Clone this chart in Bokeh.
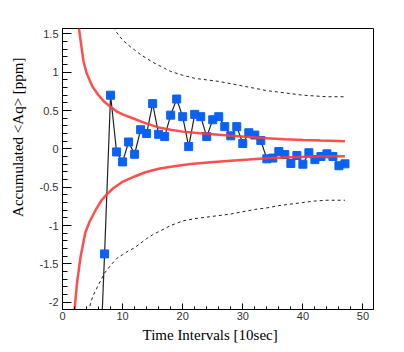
import numpy as np
from math import pi
from bokeh.plotting import figure
from bokeh.models import Range1d, FixedTicker, Title, CustomJSTickFormatter
from bokeh.embed import file_html
from bokeh.resources import INLINE

# ---- data ----
interval = [6, 7, 8, 9, 10, 11, 12, 13, 14, 15, 16, 17, 18, 19, 20, 21, 22, 23, 24, 25, 26,
            27, 28, 29, 30, 31, 32, 33, 34, 35, 36, 37, 38, 39, 40, 41, 42, 43, 44, 45, 46, 47]
acc_aq = [-3.3, -1.37, 0.70, -0.04, -0.17, 0.09, -0.07, 0.25, 0.20, 0.59, 0.19, 0.16, 0.44, 0.65,
          0.42, 0.03, 0.45, 0.42, 0.16, 0.38, 0.42, 0.29, 0.17, 0.29, 0.07, 0.21, 0.18, 0.11,
          -0.13, -0.12, -0.035, -0.074, -0.19, -0.087, -0.20, -0.05, -0.14, -0.10, -0.065, -0.10,
          -0.22, -0.195]

red_up_x = [2.6, 3, 3.5, 4, 5, 6, 7, 8, 9, 10, 11, 12, 14, 16, 18, 20, 22, 25, 28, 31, 34, 37, 40, 43, 47]
red_up_y = [1.65, 1.42, 1.14, 0.99, 0.81, 0.70, 0.61, 0.55, 0.49, 0.45, 0.42, 0.39, 0.33, 0.28,
            0.25, 0.225, 0.21, 0.19, 0.17, 0.155, 0.14, 0.125, 0.115, 0.108, 0.10]
red_lo_x = [1.9, 2, 2.4, 3, 3.8, 4.5, 5.5, 6.5, 7.4, 8.5, 9.9, 12, 13.8, 16, 18.3, 21, 24.6, 28,
            31, 34.6, 38, 42, 47]
red_lo_y = [-2.2, -2.1, -1.76, -1.41, -1.09, -0.95, -0.80, -0.67, -0.59, -0.51, -0.435, -0.36,
            -0.305, -0.26, -0.23, -0.20, -0.175, -0.155, -0.14, -0.12, -0.11, -0.10, -0.096]

dash_up_x = [8, 9, 10, 11, 12, 13, 14, 15, 16, 17, 18, 20, 22, 24, 26, 28, 30, 32, 34, 36, 38,
             40, 42, 44, 47]
dash_up_y = [1.66, 1.52, 1.42, 1.35, 1.29, 1.23, 1.18, 1.13, 1.09, 1.05, 1.01, 0.96, 0.92, 0.90,
             0.88, 0.85, 0.82, 0.79, 0.76, 0.74, 0.72, 0.70, 0.69, 0.68, 0.68]
dash_lo_x = [4, 5, 6, 7, 8, 9, 10, 11, 12, 13, 14, 15, 16, 17, 18, 20, 22, 24, 26, 28, 30, 32,
             34, 36, 38, 40, 42, 44, 47]
dash_lo_y = [-2.2, -1.93, -1.77, -1.62, -1.52, -1.43, -1.38, -1.33, -1.29, -1.23, -1.17, -1.12,
             -1.08, -1.04, -1.00, -0.94, -0.91, -0.89, -0.87, -0.85, -0.82, -0.79, -0.77, -0.74,
             -0.72, -0.70, -0.68, -0.67, -0.67]

x_major = [0, 10, 20, 30, 40, 50]
y_major = [-2.0, -1.5, -1.0, -0.5, 0.0, 0.5, 1.0, 1.5]

x_title = "Time Intervals [10sec]"
y_title = "Accumulated <Aq> [ppm]"

# ---- figure ----
p = figure(frame_width=311, frame_height=281,
           x_range=Range1d(0, 51.75), y_range=Range1d(-2.095, 1.57),
           output_backend="svg", toolbar_location=None,
           min_border_left=62, min_border_right=25, min_border_top=28, min_border_bottom=41)
p.grid.visible = False
p.outline_line_color = "black"
p.outline_line_width = 1
p.background_fill_color = "white"
p.border_fill_color = "white"

p.line(interval, acc_aq, line_color="#222222", line_width=1.2)
p.scatter(interval, acc_aq, marker="square", size=8, fill_color="#0a62f5", line_color="#0a62f5")

p.line(red_up_x, red_up_y, line_color="#ff3b3b", line_width=2.5, line_alpha=0.9)
p.line(red_lo_x, red_lo_y, line_color="#ff3b3b", line_width=2.5, line_alpha=0.9)
p.line(dash_up_x, dash_up_y, line_color="#222222", line_width=1, line_dash="3 3")
p.line(dash_lo_x, dash_lo_y, line_color="#222222", line_width=1, line_dash="3 3")

fmt = CustomJSTickFormatter(code="return String(Math.round(tick*10)/10);")

xa = p.xaxis[0]
xa.ticker = FixedTicker(ticks=x_major, minor_ticks=list(range(0, 52, 2)))
xa.formatter = fmt
xa.major_tick_in = 6
xa.major_tick_out = 0
xa.minor_tick_in = 3
xa.minor_tick_out = 0
xa.major_label_standoff = 2

ya = p.yaxis[0]
ya.ticker = FixedTicker(ticks=y_major, minor_ticks=[round(-2.0 + 0.1 * i, 1) for i in range(36)])
ya.formatter = fmt
ya.major_tick_in = 9
ya.major_tick_out = 0
ya.minor_tick_in = 5
ya.minor_tick_out = 0
ya.major_label_standoff = 4

for ax in (xa, ya):
    ax.axis_line_color = "black"
    ax.major_tick_line_color = "black"
    ax.minor_tick_line_color = "black"
    ax.major_label_text_font = "Liberation Sans"
    ax.major_label_text_font_size = "11px"
    ax.major_label_text_color = "#333333"

p.add_layout(Title(text=x_title, align="left", offset=80, standoff=4,
                   text_font="Liberation Serif", text_font_size="15px",
                   text_font_style="normal", text_color="black"), "below")
p.add_layout(Title(text=y_title, align="right", offset=29, standoff=18, vertical_align="top",
                   text_font="Liberation Serif", text_font_size="15px",
                   text_font_style="normal", text_color="black"), "left")

open("out.html", "w").write(file_html(p, INLINE))
